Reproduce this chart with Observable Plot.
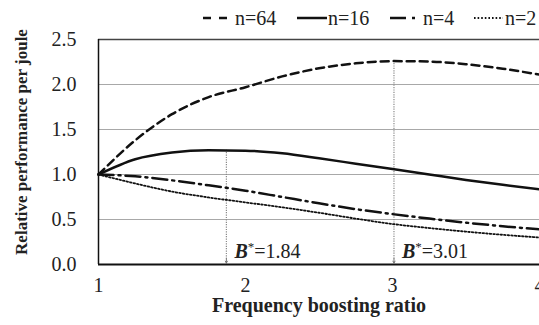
<!DOCTYPE html>
<html>
<head>
<meta charset="utf-8">
<script src="https://cdn.jsdelivr.net/npm/d3@7"></script>
<script src="https://cdn.jsdelivr.net/npm/@observablehq/plot@0.6"></script>
<style>
  body { margin: 0; background: #fff; }
  #wrap { position: relative; width: 539px; height: 325px; overflow: hidden;
          font-family: "Liberation Serif", "Times New Roman", serif; color: #222; }
  .leg { position: absolute; top: 8px; height: 20px; line-height: 20px; display: flex;
         align-items: center; font-size: 20px; white-space: nowrap; }
  .leg svg { display: block; }
  #wrap svg text { font-family: "Liberation Serif", "Times New Roman", serif; }
</style>
</head>
<body>
<div id="wrap"></div>
<script>
// ---- data ----
const xs   = [1, 1.25, 1.5, 1.75, 2, 2.25, 2.5, 2.75, 3, 3.25, 3.5, 3.75, 4];
const n64  = [1.0, 1.38, 1.67, 1.86, 1.97, 2.09, 2.18, 2.235, 2.26, 2.255, 2.225, 2.175, 2.11];
const n16  = [1.0, 1.17, 1.245, 1.27, 1.265, 1.235, 1.18, 1.12, 1.06, 1.0, 0.94, 0.885, 0.835];
const n4   = [1.0, 0.98, 0.935, 0.88, 0.82, 0.75, 0.68, 0.615, 0.56, 0.51, 0.465, 0.425, 0.39];
const n2   = [1.0, 0.9, 0.81, 0.745, 0.69, 0.635, 0.575, 0.51, 0.45, 0.405, 0.365, 0.33, 0.30];
const seriesNames = ["n=64", "n=16", "n=4", "n=2"];
const seriesValues = [n64, n16, n4, n2];
const xTicks = [1, 2, 3, 4];
const yTicks = [0, 0.5, 1.0, 1.5, 2.0, 2.5];
const gridValues = [0.5, 1.0, 1.5, 2.0];
const boostX = [1.87, 3.01];          // where the markers are drawn
const boostPeak = [1.27, 2.26];       // top of each marker line
const boostLabels = ["1.84", "3.01"];
const xTitle = "Frequency boosting ratio";
const yTitle = "Relative performance per joule";

// ---- styles ----
const styles = {
  "n=64": {dash: "8,5", width: 2.5, legDash: "8,8", legW: 24, gap: 8, left: 203},
  "n=16": {dash: null, width: 2.5, legDash: null, legW: 30, gap: 1, left: 297},
  "n=4":  {dash: "15,5,2,5", width: 2.5, legDash: "16,6,3,40", legW: 25, gap: 8, left: 390},
  "n=2":  {dash: "1.6,2", width: 1.8, legDash: "1.6,2", legW: 29, gap: 2, left: 474}
};

const rows = seriesNames.flatMap((s, k) => xs.map((x, i) => ({s, x, y: seriesValues[k][i]})));
const boostRows = boostX.map((x, i) => ({x, peak: boostPeak[i], label: boostLabels[i]}));

const lineMarks = seriesNames.map(s => Plot.line(rows.filter(r => r.s === s), {
  x: "x", y: "y", stroke: "#111", strokeWidth: styles[s].width,
  strokeDasharray: styles[s].dash || undefined, curve: "monotone-x"
}));

const chart = Plot.plot({
  width: 539, height: 325,
  marginLeft: 98, marginRight: 0, marginTop: 39, marginBottom: 61,
  style: 'font-family: "Liberation Serif", "Times New Roman", serif; font-size: 20px; color: #222; background: transparent; overflow: visible;',
  x: {domain: [1, 4]},
  y: {domain: [0, 2.5]},
  marks: [
    Plot.ruleY(gridValues, {stroke: "#a8a8a8", strokeWidth: 1}),
    Plot.ruleY([2.5], {stroke: "#444", strokeWidth: 1.5}),
    Plot.ruleX(boostRows, {x: "x", y1: "peak", y2: () => 0.06, stroke: "#8a8a8a", strokeWidth: 1.2, strokeDasharray: "1.2,1.2"}),
    Plot.arrow(boostRows, {x1: "x", x2: "x", y1: () => 0.07, y2: () => 0, stroke: "#777", strokeWidth: 1, headLength: 7, insetEnd: 1.5}),
    ...lineMarks,
    Plot.ruleY([0], {stroke: "#111", strokeWidth: 2}),
    Plot.ruleX([1], {stroke: "#111", strokeWidth: 1.5}),
    Plot.axisX({ticks: xTicks, tickFormat: d3.format("d"), tickSize: 0, tickPadding: 13, label: null, fontSize: 20}),
    Plot.axisY({ticks: yTicks, tickFormat: d3.format(".1f"), tickSize: 0, tickPadding: 22, label: null, fontSize: 20}),
    Plot.text(boostRows, {x: "x", y: () => 0, text: d => "B*=" + d.label, textAnchor: "start",
      dx: 8, dy: -13, fontSize: 20, fill: "#222"}),
    Plot.text([xTitle], {frameAnchor: "bottom", dy: 47, fontWeight: "bold", fontSize: 20, fill: "#222"}),
    Plot.text([yTitle], {frameAnchor: "left", textAnchor: "middle", dx: -77, dy: -10, rotate: -90, fontWeight: "bold", fontSize: 17, fill: "#222"})
  ]
});

// rich text for B*=…
d3.select(chart).selectAll("text").each(function() {
  const t = this.textContent;
  if (!t.startsWith("B*=")) return;
  const rest = t.slice(2);
  const sel = d3.select(this);
  sel.text(null);
  sel.append("tspan").attr("font-weight", "bold").attr("font-style", "italic").text("B");
  sel.append("tspan").attr("font-size", 13).attr("dy", -7).text("*");
  sel.append("tspan").attr("dy", 7).text(rest);
});

const wrap = document.getElementById("wrap");
wrap.appendChild(chart);

// legend (HTML over the top margin)
seriesNames.forEach(s => {
  const st = styles[s];
  const div = document.createElement("div");
  div.className = "leg";
  div.style.left = st.left + "px";
  const svg = d3.create("svg").attr("width", st.legW).attr("height", 20).style("margin-right", st.gap + "px");
  svg.append("line").attr("x1", 0).attr("x2", st.legW).attr("y1", 10).attr("y2", 10)
    .attr("stroke", "#111").attr("stroke-width", st.width)
    .attr("stroke-dasharray", st.legDash);
  div.appendChild(svg.node());
  const span = document.createElement("span");
  span.textContent = s;
  div.appendChild(span);
  wrap.appendChild(div);
});
</script>
</body>
</html>
